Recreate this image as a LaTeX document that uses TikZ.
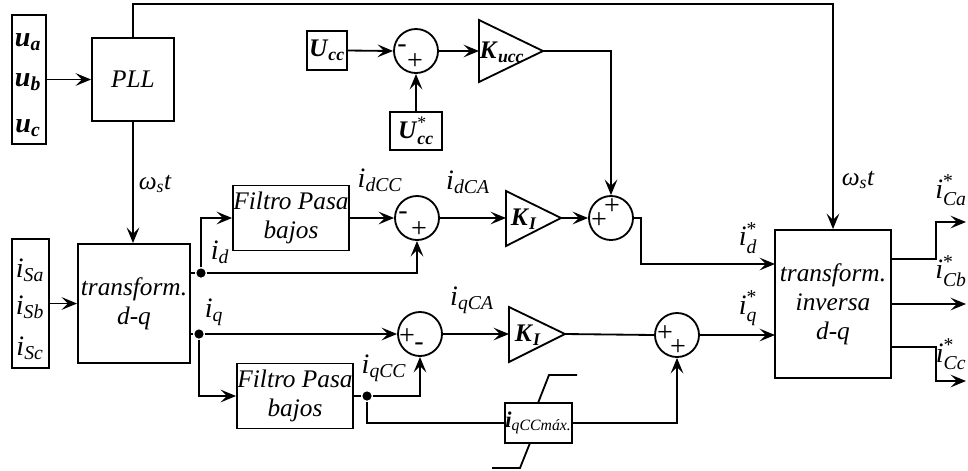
\documentclass[tikz,border=0pt]{standalone}
\usepackage{amsmath}
\usepackage{fontspec}
\setmainfont{Liberation Serif}
\usetikzlibrary{arrows.meta}

\newcommand{\isig}[2]{$\textit{#1}_{\textit{#2}}$}
\newcommand{\bsig}[2]{$\textbf{\textit{#1}}_{\textbf{\textit{#2}}}$}
\newcommand{\ssig}[2]{$\textit{#1}^{\text{*}}_{\textit{#2}}$}

\begin{document}
\begin{tikzpicture}[x=0.025cm,y=-0.025cm,line width=1.3pt,
  every node/.style={font=\fontsize{18}{20.5}\selectfont},
  blk/.style={draw,rectangle,inner sep=0pt,align=center},
  sumc/.style={draw,circle,minimum size=1.1cm,inner sep=0pt},
  sgn/.style={inner sep=0pt,font=\fontsize{20}{20}\selectfont},
  lbl/.style={font=\fontsize{20}{22}\selectfont},
  dot/.style={circle,fill,inner sep=0pt,minimum size=2.3mm},
  arr/.style={-{Stealth[length=11pt,width=9pt,inset=4.5pt]}}]
\useasboundingbox (0,0) rectangle (968,470);

% PLL
\node[blk,minimum width=0.85cm,minimum height=3.225cm] (ubox) at (29,79.5) {};
\foreach \s/\y in {a/42,b/82,c/128} \node[lbl] (u\s) at (28,\y) {\bsig{u}{\s}};
\node[blk,minimum width=2.05cm,minimum height=2.075cm] (pll) at (133,79.5) {\textit{PLL}};
\draw[arr] (ubox.east) -- (pll.west);

% transformada d-q
\node[blk,minimum width=0.925cm,minimum height=3.225cm] (isbox) at (30.5,303.5) {};
\foreach \s/\y in {a/270,b/307,c/348} \node[lbl] (is\s) at (30,\y) {\isig{i}{S\s}};
\node[blk,minimum width=2.8cm,minimum height=2.975cm] (dq) at (134,303.5) {\textit{transform.}\\\textit{d-q}};
\draw[arr] (isbox.east) -- (dq.west);
\draw[arr] (pll.south) -- (pll.south |- dq.north);
\node (wt1) at (155,184) {$\textit{ω}_{\textit{s}}\textit{t}$};

% lazo de tension
\node[blk,minimum width=1cm,minimum height=0.975cm] (ucc) at (327,50.5) {\bsig{U}{cc}};
\node[sumc] (s2) at (416,51) {};
\node[blk,minimum width=1.3cm,minimum height=0.95cm] (uref) at (416,131) {$\textbf{\textit{U}}^{\text{*}}_{\textbf{\textit{cc}}}$};
\draw (479,20) -- (543,51) -- (479,82) -- cycle;
\coordinate (kuccin) at (479,51);
\coordinate (kuccout) at (543,51);
\node (kucc) at (502,52) {\bsig{K}{ucc}};
\draw[arr] (ucc.east) -- (s2.west);
\draw[arr] (uref.north) -- (s2.south);
\draw[arr] (s2.east) -- (kuccin);

% eje d
\node[dot] (dd) at (201,273) {};
\node[blk,minimum width=2.9cm,minimum height=1.625cm] (lpf1) at (291,218) {\textit{Filtro Pasa}\\\textit{bajos}};
\node[sumc] (s1) at (417,218) {};
\draw (dd -| dq.east) -- (dd);
\draw[arr] (dd) |- (lpf1.west);
\draw[arr] (lpf1.east) -- (s1.west);
\draw[arr] (dd) -| (s1.south);
\draw (506,191) -- (561,218) -- (506,246) -- cycle;
\coordinate (ki1in) at (506,218);
\coordinate (ki1out) at (561,218);
\node (ki1) at (524,219) {\bsig{K}{I}};
\node[sumc] (s3) at (611,218) {};
\draw[arr] (s1.east) -- (ki1in);
\draw[arr] (ki1out) -- (s3.west);
\draw[arr] (kuccout) -| (s3.north);

% transformada inversa
\node[blk,minimum width=2.9cm,minimum height=3.7cm] (inv) at (833,304) {\textit{transform.}\\\textit{inversa}\\\textit{d-q}};
\coordinate (invd) at (775,264);
\coordinate (invq) at (775,335);
\draw[arr] (s3.east) -- ++(7,0) |- (invd);
\draw[arr] (pll.north) -- ++(0,-33) -| (inv.north);
\node (wt2) at (858,180) {$\textit{ω}_{\textit{s}}\textit{t}$};

% eje q
\node[dot] (qd) at (199,334) {};
\node[sumc] (s4) at (420,334) {};
\draw (qd -| dq.east) -- (qd);
\draw[arr] (qd) -- (s4.west);
\node[blk,minimum width=2.9cm,minimum height=1.625cm] (lpf2) at (295,396) {\textit{Filtro Pasa}\\\textit{bajos}};
\draw[arr] (qd) |- (lpf2.west);
\node[dot] (qc) at (367,396) {};
\draw (lpf2.east) -- (qc);
\draw[arr] (qc) -| (s4.south);
\node[blk,minimum width=1.675cm,minimum height=1cm,font=\fontsize{16}{16}\selectfont] (lim) at (538.5,423) {$\textbf{\textit{i}}_{\textit{qCCmáx.}}$};
\draw (538,403) -- (549,375) -- (577,375);
\draw (530,443) -- (520,468) -- (492,468);
\draw (qc) |- (lim.west);
\node[sumc] (s5) at (677,335) {};
\draw[arr] (lim.east) -| (s5.south);
\draw (509,307) -- (565,334) -- (509,362) -- cycle;
\coordinate (ki2in) at (509,334);
\coordinate (ki2out) at (565,334);
\node (ki2) at (528,335) {\bsig{K}{I}};
\draw[arr] (s4.east) -- (ki2in);
\draw (ki2out) -- (s5.west);
\draw[arr] (s5.east) -- (invq);

% signos
\foreach \n/\x/\y/\t in {1m/403/216/-,1p/419/230/+,2m/402/49/-,2p/415/62/+,3a/599/221/+,3b/612/207/+,4p/407/337/+,4m/419/347/-,5a/665/334/+,5b/678/348/+}
  \node[sgn] (sg\n) at (\x,\y) {\t};

% salidas
\foreach \n/\y/\e in {a/259/222,b/304/304,c/347/381} {
  \coordinate (out\n) at (891,\y);
  \coordinate (end\n) at (966,\e);
}
\draw[arr] (outa) -- ++(45,0) |- (enda);
\draw[arr] (outb) -- (endb);
\draw[arr] (outc) -- ++(45,0) |- (endc);

% etiquetas
\node[lbl] (lid) at (220,252) {\isig{i}{d}};
\node[lbl] (liq) at (214,312) {\isig{i}{q}};
\node[lbl] (lidcc) at (380,180) {\isig{i}{dCC}};
\node[lbl] (lidca) at (468,182) {\isig{i}{dCA}};
\node[lbl] (liqca) at (472,300) {\isig{i}{qCA}};
\node[lbl] (liqcc) at (384,368) {\isig{i}{qCC}};
\node[lbl] (lidr) at (748,238) {\ssig{i}{d}};
\node[lbl] (liqr) at (748,308) {\ssig{i}{q}};
\node[lbl] (lca) at (951,190) {\ssig{i}{Ca}};
\node[lbl] (lcb) at (951,271) {\ssig{i}{Cb}};
\node[lbl] (lcc) at (951,354) {\ssig{i}{Cc}};
\end{tikzpicture}
\end{document}
